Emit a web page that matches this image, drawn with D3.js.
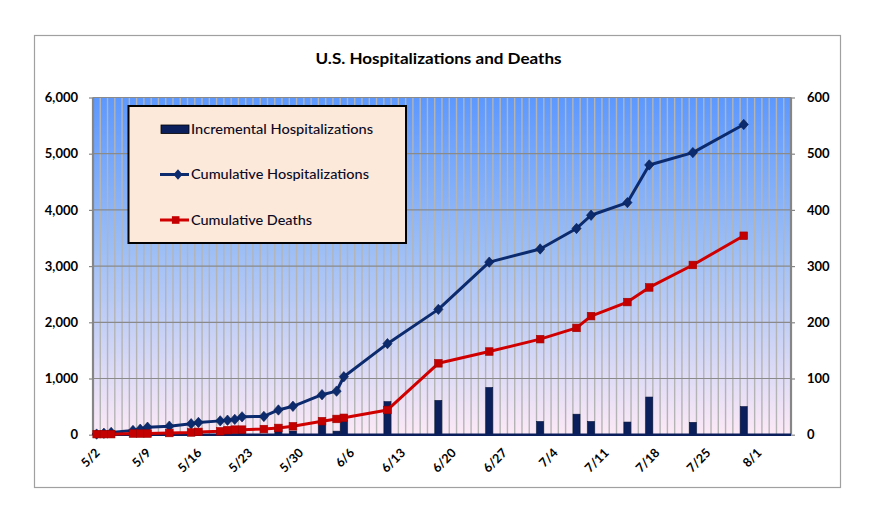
<!DOCTYPE html>
<html><head><meta charset="utf-8">
<script src="https://cdn.jsdelivr.net/npm/d3@7"></script>
<style>
html,body{margin:0;padding:0;background:#fff;}
svg{display:block;}
text{font-family:Lato,"Open Sans",sans-serif;}
</style></head>
<body>
<svg id="chart" width="876" height="517"></svg>
<script>
// ---- data ----
const dates = ["5/2","5/3","5/4","5/7","5/8","5/9","5/12","5/15","5/16","5/19","5/20","5/21","5/22","5/25","5/27","5/29","6/2","6/4","6/5","6/11","6/18","6/25","7/2","7/7","7/9","7/14","7/17","7/23","7/30"];
const cumHosp = [11,25,40,75,98,133,152,195,218,246,258,272,318,325,440,505,712,775,1032,1620,2230,3070,3305,3670,3905,4130,4800,5020,5520];
const incHosp = [11,14,15,35,23,35,19,43,23,28,12,14,46,7,115,65,207,63,257,588,610,840,235,365,235,225,670,220,500];
const cumDeaths = [1,1,1,2,2,2,3,4,5,6,8,9,9,10,12,15,24,28,30,44,127,148,170,190,211,236,262,302,354];
const xTickLabels = ["5/2","5/9","5/16","5/23","5/30","6/6","6/13","6/20","6/27","7/4","7/11","7/18","7/25","8/1"];
const leftTicks = [0,1000,2000,3000,4000,5000,6000];
const rightTicks = [0,100,200,300,400,500,600];
const legendLabels = ["Incremental Hospitalizations","Cumulative Hospitalizations","Cumulative Deaths"];
const title = "U.S. Hospitalizations and Deaths";

// ---- layout ----
const W = 876, H = 517;
const plot = {l:93, r:791, t:97.5, b:434.7};
const fmt = d3.timeFormat("%-m/%-d");
const allDays = d3.timeDay.range(new Date(2009,4,2), new Date(2009,7,6)).map(fmt);

const x = d3.scaleBand().domain(allDays).range([plot.l, plot.r]).padding(0);
const yL = d3.scaleLinear().domain([0,6000]).range([plot.b, plot.t]);
const yR = d3.scaleLinear().domain([0,600]).range([plot.b, plot.t]);
const cx = d => x(d) + x.bandwidth()/2;

const svg = d3.select("#chart");
const defs = svg.append("defs");
const grad = defs.append("linearGradient").attr("id","bg").attr("x1",0).attr("y1",0).attr("x2",0).attr("y2",1);
grad.append("stop").attr("offset","0%").attr("stop-color","#5c98ff");
grad.append("stop").attr("offset","45%").attr("stop-color","#9cbef6");
grad.append("stop").attr("offset","100%").attr("stop-color","#fde9f6");

// outer frame
svg.append("rect").attr("x",34.5).attr("y",35.5).attr("width",806).attr("height",452)
  .attr("fill","#fff").attr("stroke","#a0a0a0").attr("stroke-width",1.2);

// title
svg.append("text").attr("x",438.5).attr("y",64).attr("text-anchor","middle")
  .attr("font-size",16).attr("font-weight","bold").attr("fill","#000")
  .attr("textLength",246).attr("lengthAdjust","spacingAndGlyphs").text(title);

// plot background
svg.append("rect").attr("x",plot.l).attr("y",plot.t).attr("width",plot.r-plot.l).attr("height",plot.b-plot.t)
  .attr("fill","url(#bg)");

// vertical gridlines (one per day)
svg.append("g").selectAll("line").data(allDays.slice(1)).join("line")
  .attr("x1",d=>x(d)).attr("x2",d=>x(d)).attr("y1",plot.t).attr("y2",plot.b)
  .attr("stroke","#b4b4b4").attr("stroke-width",1.4);

// horizontal gridlines
svg.append("g").selectAll("line").data(leftTicks.slice(1)).join("line")
  .attr("x1",plot.l).attr("x2",plot.r).attr("y1",d=>yL(d)).attr("y2",d=>yL(d))
  .attr("stroke","#8a8a8a").attr("stroke-width",1.2);

// bars
const bw = x.bandwidth()*0.96;
svg.append("g").selectAll("rect").data(dates).join("rect")
  .attr("x",(d)=>cx(d)-bw/2).attr("width",bw)
  .attr("y",(d,i)=>yL(incHosp[i])).attr("height",(d,i)=>plot.b-yL(incHosp[i]))
  .attr("fill","#0a1f5c").attr("stroke","#06133a").attr("stroke-width",0.6);

// axes
const axL = svg.append("g").attr("transform",`translate(${plot.l},0)`)
  .call(d3.axisLeft(yL).tickValues(leftTicks).tickFormat(d3.format(",")).tickSize(4).tickPadding(11));
const axR = svg.append("g").attr("transform",`translate(${plot.r},0)`)
  .call(d3.axisRight(yR).tickValues(rightTicks).tickSize(4).tickPadding(12));
[axL,axR].forEach(a=>{
  a.select(".domain").attr("stroke","#868686").attr("stroke-width",2.2);
  a.selectAll(".tick line").attr("stroke","#868686").attr("stroke-width",1.2);
  a.selectAll(".tick text").attr("font-family","Lato").attr("font-size",13).attr("font-weight","bold").attr("fill","#000");
});
axL.select(".domain").attr("d",`M0,${plot.t}V${plot.b}`);
axR.select(".domain").attr("d",`M0,${plot.t}V${plot.b}`);

// bottom category axis line
svg.append("line").attr("x1",plot.l).attr("x2",plot.r).attr("y1",plot.b).attr("y2",plot.b)
  .attr("stroke","#0a1f5c").attr("stroke-width",2.4);

// x tick labels
svg.append("g").selectAll("text").data(xTickLabels).join("text")
  .attr("transform",d=>`translate(${cx(d)+4},${plot.b+19}) rotate(-45)`)
  .attr("text-anchor","end").attr("font-size",12.5).attr("font-weight","bold").attr("fill","#000")
  .text(d=>d);

// lines
const blue = "#0c2a6e", red = "#d10000";
const lineH = d3.line().x(d=>cx(d[0])).y(d=>yL(d[1]));
const lineD = d3.line().x(d=>cx(d[0])).y(d=>yR(d[1]));
svg.append("path").datum(dates.map((d,i)=>[d,cumHosp[i]])).attr("d",lineH)
  .attr("fill","none").attr("stroke",blue).attr("stroke-width",3).attr("stroke-linejoin","round");
const diamond = "M0,-5.2L4.6,0L0,5.2L-4.6,0Z";
svg.append("g").selectAll("path").data(dates).join("path")
  .attr("transform",(d,i)=>`translate(${cx(d)},${yL(cumHosp[i])})`).attr("d",diamond)
  .attr("fill",blue).attr("stroke","#081d50").attr("stroke-width",0.6);

svg.append("path").datum(dates.map((d,i)=>[d,cumDeaths[i]])).attr("d",lineD)
  .attr("fill","none").attr("stroke",red).attr("stroke-width",3).attr("stroke-linejoin","round");
svg.append("g").selectAll("rect").data(dates).join("rect")
  .attr("x",d=>cx(d)-3.8).attr("y",(d,i)=>yR(cumDeaths[i])-3.8).attr("width",7.6).attr("height",7.6)
  .attr("fill","#c40000").attr("stroke","#a00000").attr("stroke-width",0.6);

// legend
const lg = svg.append("g");
lg.append("rect").attr("x",128.5).attr("y",106).attr("width",277.5).attr("height",137)
  .attr("fill","#fde9d9").attr("stroke","#000").attr("stroke-width",2);
const rows = [129,174.5,220];
const textW = [182,178,121];
lg.append("rect").attr("x",161).attr("y",125).attr("width",28).attr("height",8.5)
  .attr("fill","#0a1f5c").attr("stroke","#000").attr("stroke-width",0.8);
lg.append("line").attr("x1",160).attr("x2",189).attr("y1",rows[1]).attr("y2",rows[1]).attr("stroke",blue).attr("stroke-width",3);
lg.append("path").attr("transform",`translate(178,${rows[1]})`).attr("d",diamond).attr("fill",blue);
lg.append("line").attr("x1",160).attr("x2",189).attr("y1",rows[2]).attr("y2",rows[2]).attr("stroke",red).attr("stroke-width",3);
lg.append("rect").attr("x",175.7-3.8).attr("y",rows[2]-3.8).attr("width",7.6).attr("height",7.6).attr("fill","#c40000");
lg.selectAll("text.lab").data(legendLabels).join("text").attr("class","lab")
  .attr("x",191).attr("y",(d,i)=>rows[i]+4.8).attr("font-size",14).attr("font-weight",500).attr("fill","#0b0b26")
  .attr("textLength",(d,i)=>textW[i]).attr("lengthAdjust","spacingAndGlyphs").text(d=>d);
</script>
</body></html>
